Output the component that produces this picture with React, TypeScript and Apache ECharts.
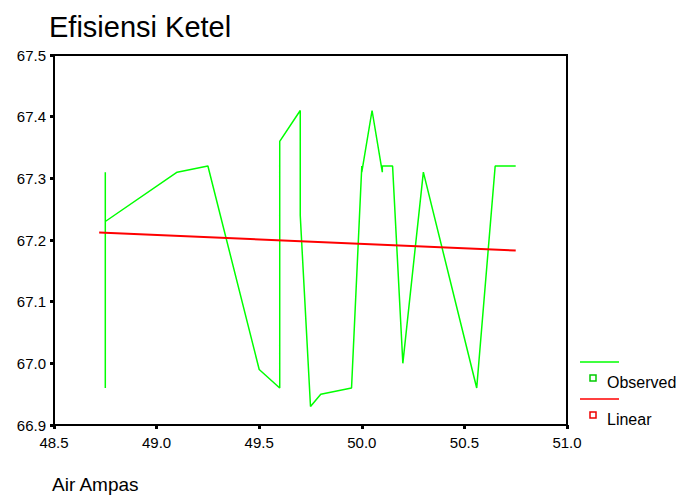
import React, { useEffect, useRef } from "react";
import * as echarts from "echarts";

const obsX = [48.75, 48.75, 48.75, 49.1, 49.25, 49.5, 49.6, 49.6, 49.7, 49.7, 49.75, 49.8, 49.95, 50.0, 50.0, 50.05, 50.1, 50.1, 50.15, 50.2, 50.3, 50.56, 50.65, 50.75];
const obsY = [67.31, 66.96, 67.23, 67.31, 67.32, 66.99, 66.96, 67.36, 67.41, 67.24, 66.93, 66.95, 66.96, 67.32, 67.31, 67.41, 67.31, 67.32, 67.32, 67.0, 67.31, 66.96, 67.32, 67.32];
const fitX = [48.72, 50.75];
const fitY = [67.212, 67.183];
const xTicks = { min: 48.5, max: 51.0, interval: 0.5 };
const yTicks = { min: 66.9, max: 67.5, interval: 0.1 };
const titleText = "Efisiensi Ketel";
const xName = "Air Ampas";
const legendNames = ["Observed", "Linear"];

const FONT = "'Liberation Sans', Arial, sans-serif";

export default function App() {
  const ref = useRef<HTMLDivElement>(null);
  useEffect(() => {
    if (!ref.current) return;
    const chart = echarts.init(ref.current, null, { renderer: "svg" });
    const axisCommon = {
      type: "value" as const,
      axisLine: { show: true, onZero: false, lineStyle: { color: "#000", width: 2 } },
      axisTick: { show: true, inside: false, length: 4, lineStyle: { color: "#000", width: 3 } },
      splitLine: { show: false },
    };
    chart.setOption({
      animation: false,
      backgroundColor: "#fff",
      title: {
        text: titleText,
        left: 44,
        top: 7,
        textStyle: { fontFamily: FONT, fontSize: 29, fontWeight: "normal", color: "#000" },
      },
      grid: { left: 54, right: 112, top: 55, bottom: 72, show: true, borderColor: "#000", borderWidth: 2, backgroundColor: "transparent" },
      xAxis: {
        ...axisCommon,
        min: xTicks.min,
        max: xTicks.max,
        interval: xTicks.interval,
        axisLabel: { margin: 10, fontFamily: FONT, fontSize: 15, color: "#000", formatter: (v: number) => v.toFixed(1) },
      },
      yAxis: {
        ...axisCommon,
        min: yTicks.min,
        max: yTicks.max,
        interval: yTicks.interval,
        axisLabel: { margin: 8, fontFamily: FONT, fontSize: 15, color: "#000", formatter: (v: number) => v.toFixed(1) },
      },
      series: [
        {
          name: legendNames[0],
          type: "line",
          data: obsX.map((x, i) => [x, obsY[i]]),
          showSymbol: false,
          lineStyle: { color: "#00ff00", width: 1.5 },
        },
        {
          name: legendNames[1],
          type: "line",
          data: fitX.map((x, i) => [x, fitY[i]]),
          showSymbol: false,
          lineStyle: { color: "#ff0000", width: 2 },
        },
      ],
      graphic: [
        { type: "line", shape: { x1: 580, y1: 362, x2: 619, y2: 362 }, style: { stroke: "#00ff00", lineWidth: 1.5 } },
        { type: "rect", shape: { x: 590, y: 375, width: 6, height: 6 }, style: { stroke: "#00cc00", fill: "#fff", lineWidth: 1.5 } },
        { type: "text", x: 607, y: 382, style: { text: legendNames[0], font: `16px ${FONT}`, fill: "#000", verticalAlign: "middle" } },
        { type: "line", shape: { x1: 580, y1: 399, x2: 619, y2: 399 }, style: { stroke: "#ff0000", lineWidth: 1.5 } },
        { type: "rect", shape: { x: 590, y: 412, width: 6, height: 6 }, style: { stroke: "#ee0000", fill: "#fff", lineWidth: 1.5 } },
        { type: "text", x: 607, y: 419, style: { text: legendNames[1], font: `16px ${FONT}`, fill: "#000", verticalAlign: "middle" } },
        { type: "text", x: 52, y: 484, style: { text: xName, font: `19px ${FONT}`, fill: "#000", verticalAlign: "middle" } },
      ],
    });
    return () => chart.dispose();
  }, []);
  return <div ref={ref} style={{ width: 679, height: 497, position: "absolute", left: 0, top: 0 }} />;
}
